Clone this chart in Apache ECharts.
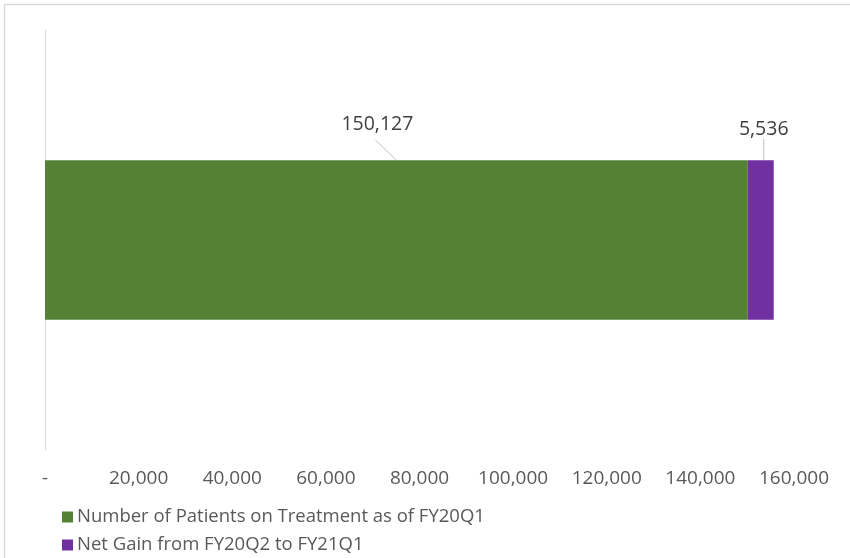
<!DOCTYPE html>
<html>
<head>
<meta charset="utf-8">
<script src="https://cdn.jsdelivr.net/npm/echarts@6/dist/echarts.min.js"></script>
<style>
  html, body { margin: 0; padding: 0; background: #fff; }
  #chart { width: 850px; height: 558px; }
</style>
</head>
<body>
<div id="chart"></div>
<script>
// Patients on treatment: base as of FY20Q1 plus net gain through FY21Q1
const categories = ['Patients'];
const seriesNames = ['Number of Patients on Treatment as of FY20Q1', 'Net Gain from FY20Q2 to FY21Q1'];
const baseValues = [150127];
const gainValues = [5536];
const seriesColors = ['#548235', '#7030a0'];

const fmt = v => v === 0 ? '-' : v.toLocaleString('en-US');
const FONT = '"Open Sans", sans-serif';
const GUIDE = '#bfbfbf';

// label offsets from the centre of each bar segment
const baseLabelOffset = { dx: -19, dy: -116 };
const gainLabelOffset = { dx: 3, dy: -111 };

const chart = echarts.init(document.getElementById('chart'), null, { renderer: 'canvas' });

chart.setOption({
  animation: false,
  backgroundColor: '#ffffff',
  grid: { left: 45, right: 56, top: 30, bottom: 108, containLabel: false },
  legend: {
    orient: 'vertical',
    left: 57,
    top: 502,
    width: 600,
    height: 70,
    padding: 5,
    itemWidth: 11,
    itemHeight: 11,
    itemGap: 8,
    icon: 'rect',
    textStyle: { fontFamily: FONT, fontSize: 18.5, lineHeight: 20, color: '#595959', padding: [0, 0, 0, -1] },
    data: seriesNames
  },
  xAxis: {
    type: 'value',
    min: 0,
    max: 160000,
    interval: 20000,
    axisLine: { show: false },
    axisTick: { show: false },
    splitLine: { show: false },
    axisLabel: {
      formatter: fmt,
      fontFamily: FONT,
      fontSize: 19,
      color: '#595959',
      margin: 19
    }
  },
  yAxis: {
    type: 'category',
    data: categories,
    axisLine: { show: true, lineStyle: { color: '#d9d9d9', width: 1 } },
    axisTick: { show: false },
    axisLabel: { show: false }
  },
  series: [
    {
      name: seriesNames[0],
      type: 'bar',
      stack: 'total',
      data: baseValues,
      barWidth: '38%',
      itemStyle: { color: seriesColors[0] },
      label: {
        show: true,
        position: 'inside',
        formatter: p => fmt(p.value),
        fontFamily: FONT,
        fontSize: 19.5,
        color: '#404040'
      },
      labelLayout: baseLabelOffset
    },
    {
      name: seriesNames[1],
      type: 'bar',
      stack: 'total',
      data: gainValues,
      barWidth: '38%',
      itemStyle: { color: seriesColors[1] },
      label: {
        show: true,
        position: 'inside',
        formatter: p => fmt(p.value),
        fontFamily: FONT,
        fontSize: 19.5,
        color: '#404040'
      },
      labelLayout: gainLabelOffset,
      labelLine: { show: true, lineStyle: { color: GUIDE, width: 1 } }
    }
  ]
});

// Chart frame plus the slanted leader line of the base label,
// anchored on the laid-out bar segment.
const layout = chart.getModel().getSeriesByIndex(0).getData().getItemLayout(0);
const barTop = Math.min(layout.y, layout.y + layout.height);
const barCx = layout.x + layout.width / 2;
const barCy = barTop + Math.abs(layout.height) / 2;
const labelCx = barCx + baseLabelOffset.dx;
const labelCy = barCy + baseLabelOffset.dy;

chart.setOption({
  graphic: [
    {
      type: 'rect',
      shape: { x: 4.5, y: 4.5, width: 900, height: 600 },
      style: { fill: 'none', stroke: '#d9d9d9', lineWidth: 1.5 },
      silent: true
    },
    {
      type: 'line',
      shape: { x1: labelCx - 2, y1: labelCy + 16, x2: barCx, y2: barTop },
      style: { stroke: GUIDE, lineWidth: 1 },
      silent: true
    }
  ]
});
</script>
</body>
</html>
